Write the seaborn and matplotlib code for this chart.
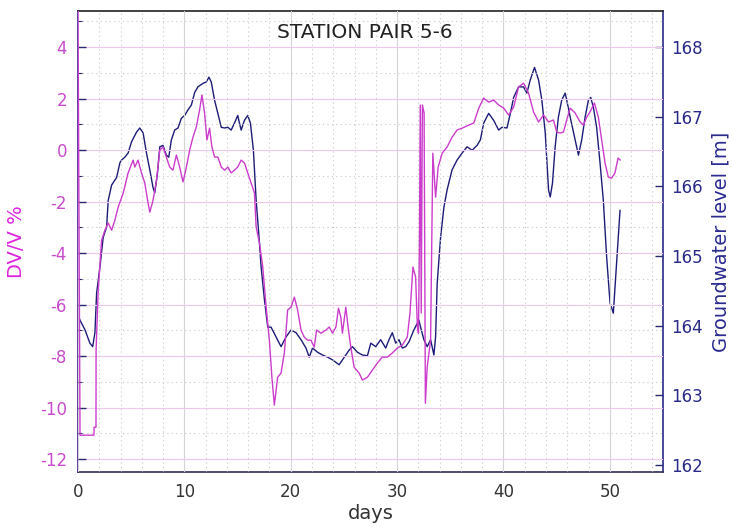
import matplotlib
matplotlib.use("Agg")
import matplotlib.pyplot as plt
from matplotlib.ticker import MultipleLocator
import numpy as np
import pandas as pd
import seaborn as sns

# Groundwater level record (days, metres)
gw_days = [0.00, 0.19, 0.66, 1.12, 1.38, 1.59, 1.75, 2.06, 2.37, 2.69, 2.84, 3.16, 3.63, 3.94,
           4.10, 4.40, 4.71, 5.03, 5.50, 5.81, 6.12, 6.44, 6.75, 7.06, 7.22, 7.47, 7.69, 7.99,
           8.31, 8.53, 8.78, 9.09, 9.40, 9.72, 10.03, 10.34, 10.66, 10.97, 11.27, 11.74, 12.06,
           12.31, 12.53, 12.84, 13.15, 13.47, 13.78, 14.09, 14.40, 14.71, 15.02, 15.18, 15.34,
           15.65, 15.96, 16.21, 16.49, 16.75, 16.99, 17.22, 17.53, 17.84, 18.15, 18.62, 19.09,
           19.56, 20.03, 20.50, 20.97, 21.43, 21.74, 22.05, 22.52, 22.99, 23.46, 23.93, 24.55,
           24.86, 25.18, 25.49, 25.80, 26.27, 26.74, 27.21, 27.53, 27.99, 28.46, 28.93, 29.24,
           29.55, 29.87, 30.18, 30.49, 30.81, 31.12, 31.58, 32.05, 32.21, 32.52, 32.83, 33.15,
           33.46, 33.62, 33.77, 34.09, 34.40, 34.70, 35.17, 35.64, 36.11, 36.58, 37.05, 37.52,
           37.83, 38.14, 38.61, 39.08, 39.55, 39.86, 40.33, 40.65, 40.96, 41.42, 41.89, 42.20,
           42.52, 42.92, 43.30, 43.61, 43.93, 44.24, 44.40, 44.61, 44.86, 45.17, 45.48, 45.80,
           45.95, 46.27, 46.74, 47.05, 47.36, 47.68, 47.99, 48.20, 48.45, 48.76, 49.08, 49.39,
           49.70, 50.02, 50.33, 50.64, 50.96]
gw_level = [164.15, 164.08, 163.94, 163.75, 163.70, 163.90, 164.47, 164.84, 165.27, 165.42,
            165.80, 166.02, 166.13, 166.34, 166.38, 166.42, 166.48, 166.64, 166.78, 166.84,
            166.77, 166.48, 166.24, 165.98, 165.91, 166.19, 166.57, 166.59, 166.45, 166.42,
            166.67, 166.81, 166.84, 166.98, 167.02, 167.10, 167.17, 167.35, 167.43, 167.48,
            167.50, 167.57, 167.50, 167.24, 167.05, 166.85, 166.84, 166.85, 166.81, 166.91,
            167.02, 166.91, 166.81, 166.95, 167.02, 166.91, 166.52, 165.80, 165.33, 164.84,
            164.37, 163.98, 163.98, 163.84, 163.70, 163.84, 163.94, 163.90, 163.80, 163.68,
            163.55, 163.68, 163.62, 163.58, 163.55, 163.51, 163.44, 163.51, 163.58, 163.65,
            163.70, 163.62, 163.58, 163.57, 163.75, 163.70, 163.80, 163.68, 163.80, 163.90,
            163.75, 163.80, 163.68, 163.70, 163.77, 163.94, 164.08, 163.98, 163.80, 163.70,
            163.80, 163.58, 163.84, 164.61, 165.27, 165.70, 165.95, 166.24, 166.38, 166.48,
            166.57, 166.52, 166.59, 166.67, 166.91, 167.05, 166.95, 166.81, 166.85, 166.84,
            167.05, 167.28, 167.43, 167.43, 167.34, 167.53, 167.71, 167.53, 167.24, 166.77,
            165.95, 165.85, 166.05, 166.57, 167.00, 167.24, 167.34, 167.24, 167.00, 166.67,
            166.45, 166.67, 167.00, 167.24, 167.28, 167.14, 166.85, 166.34, 165.80, 164.99,
            164.33, 164.18, 164.90, 165.66]

# Relative velocity change dv/v (days, percent)
dv_days = [0.00, 0.19, 1.50, 1.51, 1.69, 1.70, 1.90, 2.22, 2.53, 2.84, 3.16, 3.47, 3.78, 4.25,
           4.71, 5.18, 5.34, 5.65, 5.97, 6.28, 6.59, 6.75, 7.06, 7.38, 7.69, 7.99, 8.31, 8.62,
           8.93, 9.25, 9.56, 9.87, 10.19, 10.50, 10.81, 11.12, 11.43, 11.65, 11.90, 12.12,
           12.37, 12.59, 12.84, 13.15, 13.47, 13.78, 14.09, 14.40, 14.71, 15.02, 15.34, 15.65,
           15.96, 16.28, 16.59, 16.75, 17.06, 17.37, 17.69, 17.99, 18.25, 18.46, 18.77, 19.09,
           19.40, 19.71, 20.03, 20.34, 20.65, 20.97, 21.27, 21.58, 21.90, 22.21, 22.43, 22.84,
           23.31, 23.62, 23.93, 24.25, 24.49, 24.71, 24.86, 25.18, 25.43, 25.65, 25.96, 26.43,
           26.74, 27.21, 27.68, 28.14, 28.61, 29.08, 29.55, 30.02, 30.49, 30.96, 31.21, 31.37,
           31.49, 31.74, 31.91, 32.01, 32.10, 32.18, 32.27, 32.38, 32.54, 32.66, 32.83, 33.15,
           33.36, 33.62, 33.86, 34.24, 34.70, 35.17, 35.64, 36.11, 36.74, 37.21, 37.68, 38.14,
           38.61, 39.08, 39.55, 40.02, 40.49, 40.96, 41.42, 41.89, 42.36, 42.83, 43.30, 43.77,
           44.24, 44.70, 45.01, 45.33, 45.64, 45.95, 46.27, 46.74, 47.21, 47.52, 47.83, 48.14,
           48.55, 48.92, 49.23, 49.55, 49.86, 50.17, 50.48, 50.78, 50.98]
dv_pct = [5.40, -11.07, -11.07, -10.76, -10.76, -7.77, -5.44, -3.50, -3.11, -2.83, -3.11,
          -2.72, -2.21, -1.67, -0.89, -0.39, -0.66, -0.39, -0.89, -1.28, -2.06, -2.41, -1.94,
          -1.17, 0.00, 0.12, -0.27, -0.66, -0.78, -0.19, -0.66, -1.24, -0.66, 0.00, 0.50, 0.89,
          1.55, 2.14, 1.44, 0.39, 0.85, 0.12, -0.27, -0.27, -0.66, -0.78, -0.66, -0.89, -0.78,
          -0.66, -0.39, -0.50, -0.89, -1.28, -1.67, -2.99, -3.61, -4.54, -6.10, -7.38, -8.93,
          -9.90, -8.82, -8.66, -7.88, -6.21, -6.10, -5.71, -6.21, -6.99, -7.26, -7.38, -7.38,
          -7.65, -6.99, -7.11, -6.99, -6.87, -7.11, -6.87, -6.14, -6.49, -7.11, -6.10, -6.99,
          -7.65, -8.43, -8.66, -8.93, -8.82, -8.54, -8.27, -8.04, -8.04, -7.88, -7.69, -7.57,
          -7.26, -6.33, -5.32, -4.54, -4.93, -6.87, -7.11, -3.61, 1.75, -6.33, 1.75, 1.44,
          -9.83, -8.43, -7.38, -0.12, -1.83, -0.66, -0.12, 0.12, 0.50, 0.78, 0.85, 0.97, 1.05,
          1.63, 2.02, 1.86, 1.94, 1.75, 1.63, 1.36, 1.67, 2.45, 2.60, 2.21, 1.48, 1.09, 1.36,
          1.09, 1.17, 0.70, 0.66, 0.70, 1.17, 1.63, 1.44, 1.09, 0.97, 1.28, 1.48, 1.83, 1.28,
          0.39, -0.50, -1.05, -1.09, -0.89, -0.31, -0.39]

x_ticks = [0, 10, 20, 30, 40, 50]
dv_ticks = [-12, -10, -8, -6, -4, -2, 0, 2, 4]
gw_ticks = [162, 163, 164, 165, 166, 167, 168]

DV_COLOR = "#cc3ccc"
GW_COLOR = "#1c1c78"

gw_df = pd.DataFrame({"days": gw_days, "level": gw_level})
dv_df = pd.DataFrame({"days": dv_days, "dvv": dv_pct})

sns.set_theme(style="white")
plt.rcParams["font.family"] = ["DejaVu Sans"]
plt.rcParams["axes.unicode_minus"] = False

fig = plt.figure(figsize=(7.32, 5.28), dpi=100)
ax = fig.add_axes([78 / 732, 56 / 528, 585 / 732, 461 / 528])
ax2 = ax.twinx()

# groundwater on the right axis, dv/v on top of it on the left axis
sns.lineplot(data=gw_df, x="days", y="level", ax=ax2, color=GW_COLOR, lw=1.0,
             estimator=None, sort=False)
sns.lineplot(data=dv_df, x="days", y="dvv", ax=ax, color=DV_COLOR, lw=1.0,
             estimator=None, sort=False)
ax.set_zorder(ax2.get_zorder() + 1)
ax.patch.set_visible(False)
ax2.patch.set_facecolor("white")

ax.set_xlim(0, 55)
ax.set_ylim(-12.5, 5.4)
ax2.set_ylim(161.9, 168.52)

ax.set_xticks(x_ticks)
ax.xaxis.set_minor_locator(MultipleLocator(2))
ax.set_yticks(dv_ticks)
ax.yaxis.set_minor_locator(MultipleLocator(1))
ax2.set_yticks(gw_ticks)

# grid: solid at major ticks, dotted at minor ones
ax.grid(which="major", axis="x", color="#d4d4d4", lw=0.8, ls="-")
ax.grid(which="minor", axis="x", color="#c8c8c8", lw=0.8, ls=(0, (1, 3)))
ax.grid(which="major", axis="y", color="#ecc8ec", lw=0.8, ls="-")
ax.grid(which="minor", axis="y", color="#c8c8c8", lw=0.8, ls=(0, (1, 3)))
ax2.grid(False)

ax.tick_params(axis="x", which="major", direction="in", length=5, width=1,
               color="#333333", labelsize=12, labelcolor="#333333", pad=8)
ax.tick_params(axis="x", which="minor", length=0)
ax.tick_params(axis="y", which="major", direction="in", length=6, width=1,
               color="#2a2a70", labelsize=12, labelcolor="#c84ccc", pad=8, left=True)
ax.tick_params(axis="y", which="minor", direction="in", length=3, width=0.8,
               color="#2a2a70", left=True)
ax2.tick_params(axis="y", which="major", direction="in", length=6, width=1,
                color="#2a2a70", labelsize=12, labelcolor="#2a2a88", pad=6, right=True)

for sp in ax.spines.values():
    sp.set_visible(False)
ax2.spines["left"].set_color("#4a1e96")
ax2.spines["right"].set_color("#2a2a88")
ax2.spines["top"].set_color("#222222")
ax2.spines["bottom"].set_color("#2e2e55")
for sp in ax2.spines.values():
    sp.set_linewidth(1.2)
    sp.set_visible(True)

ax.set_xlabel("days", fontsize=14, color="#333333", labelpad=2)
ax.set_ylabel("DV/V %", fontsize=14, color="#e022e0", labelpad=10)
ax2.set_ylabel("Groundwater level [m]", fontsize=14, color="#2a2a90", labelpad=6)

ax.text(0.49, 0.954, "STATION PAIR 5-6", transform=ax.transAxes, ha="center",
        va="center", fontsize=14.5, color="#222222")

fig.savefig("out.png", dpi=100, facecolor="white")
